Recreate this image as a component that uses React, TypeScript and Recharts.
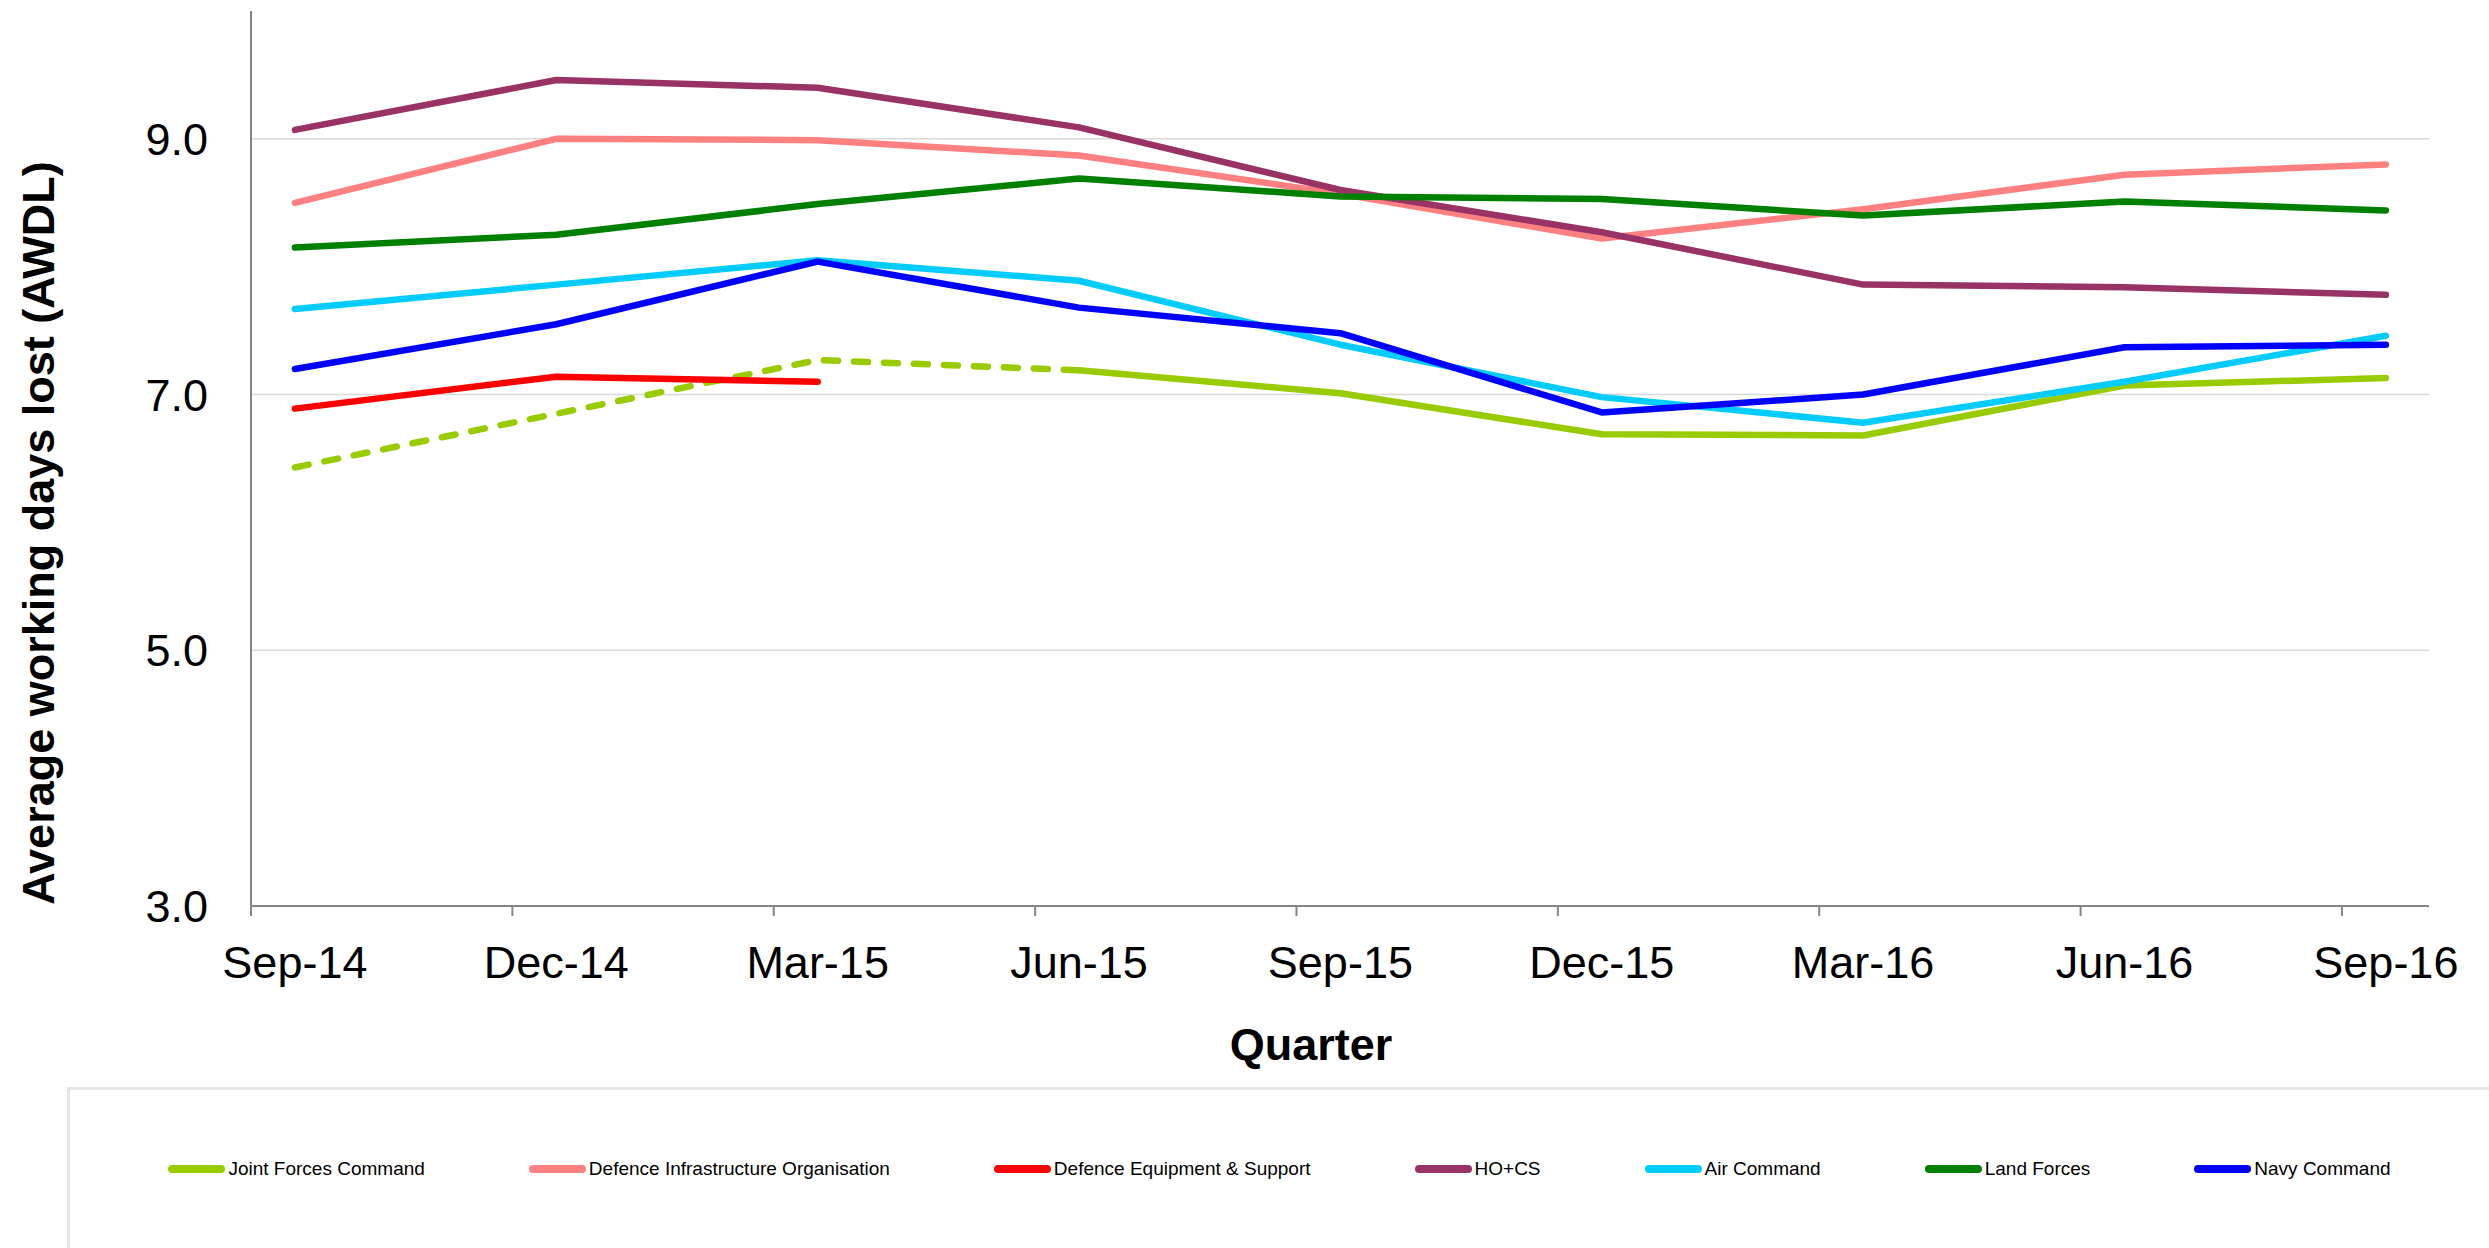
import { CartesianGrid, Legend, Line, LineChart, XAxis, YAxis } from "recharts"

const quarters = ["Sep-14", "Dec-14", "Mar-15", "Jun-15", "Sep-15", "Dec-15", "Mar-16", "Jun-16", "Sep-16"]

const jointForces = [null, null, null, 7.19, 7.01, 6.69, 6.68, 7.07, 7.13]
const jointForcesEarly = [6.43, 6.85, 7.27, 7.19, null, null, null, null, null]
const infrastructure = [8.5, 9.0, 8.99, 8.87, 8.57, 8.22, 8.45, 8.72, 8.8]
const equipment = [6.89, 7.14, 7.1, null, null, null, null, null, null]
const hoCs = [9.07, 9.46, 9.4, 9.09, 8.6, 8.27, 7.86, 7.84, 7.78]
const airCommand = [7.67, 7.86, 8.05, 7.89, 7.39, 6.98, 6.78, 7.1, 7.46]
const landForces = [8.15, 8.25, 8.49, 8.69, 8.55, 8.53, 8.4, 8.51, 8.44]
const navyCommand = [7.2, 7.55, 8.04, 7.68, 7.48, 6.86, 7.0, 7.37, 7.39]

const yTicks = [3, 5, 7, 9]
const gridValues = [5, 7, 9]

const legendOrder = [
  "Joint Forces Command",
  "Defence Infrastructure Organisation",
  "Defence Equipment & Support",
  "HO+CS",
  "Air Command",
  "Land Forces",
  "Navy Command",
]

const data = quarters.map((q, i) => ({
  idx: i,
  quarter: q,
  jfc: jointForces[i],
  jfcEarly: jointForcesEarly[i],
  dio: infrastructure[i],
  des: equipment[i],
  hocs: hoCs[i],
  air: airCommand[i],
  land: landForces[i],
  navy: navyCommand[i],
}))

const W = 2489
const H = 1248
const LEFT = 251
const RIGHT_MARGIN = 60
const X_MIN = -0.168
const X_MAX = 8.165
const PLOT_W = W - LEFT - RIGHT_MARGIN
const FONT = "'Liberation Sans', Arial, sans-serif"
const AXIS = "#858585"

// excel puts the tick marks between the date points, not under them
const SHIFT = (-X_MIN * PLOT_W) / (X_MAX - X_MIN)

const XTick = (props: any) => {
  const { x, y, payload } = props
  const axisY = y - 40
  return (
    <g>
      <line x1={x - SHIFT} x2={x - SHIFT} y1={axisY} y2={axisY + 10} stroke={AXIS} strokeWidth={2} />
      <text x={x} y={y} dy="0.71em" textAnchor="middle" fontFamily={FONT} fontSize={45} fill="#000">
        {quarters[payload.value]}
      </text>
    </g>
  )
}

const renderLegend = (props: any) => {
  const items = (props.payload || [])
    .filter((e: any) => e.type !== "none")
    .sort((a: any, b: any) => legendOrder.indexOf(a.value) - legendOrder.indexOf(b.value))
  return (
    <div
      style={{
        width: 2422,
        height: 161,
        boxSizing: "border-box",
        borderTop: "3px solid #e6e6e6",
        borderLeft: "3px solid #e6e6e6",
        display: "flex",
        alignItems: "center",
        justifyContent: "center",
        gap: 104,
        fontFamily: FONT,
        fontSize: 19,
        color: "#000",
      }}
    >
      {items.map((e: any) => (
        <div key={e.value} style={{ display: "flex", alignItems: "center", whiteSpace: "nowrap" }}>
          <span style={{ width: 57, height: 8, borderRadius: 4, background: e.color, marginRight: 3 }} />
          <span>{e.value}</span>
        </div>
      ))}
    </div>
  )
}

const lineProps = {
  type: "linear" as const,
  dot: false,
  activeDot: false,
  strokeWidth: 6.5,
  strokeLinecap: "round" as const,
  strokeLinejoin: "round" as const,
  isAnimationActive: false,
}

export default function App() {
  return (
    <div style={{ position: "absolute", left: 0, top: 0, background: "#fff" }}>
      <LineChart width={W} height={H} data={data} margin={{ top: 11, right: RIGHT_MARGIN, left: 0, bottom: 0 }}>
        <CartesianGrid vertical={false} horizontalValues={gridValues} stroke="#d9d9d9" strokeWidth={1.5} />
        <XAxis
          type="number"
          dataKey="idx"
          domain={[X_MIN, X_MAX]}
          ticks={[0, 1, 2, 3, 4, 5, 6, 7, 8]}
          interval={0}
          height={181}
          tickLine={false}
          tickSize={10}
          tickMargin={30}
          axisLine={{ stroke: AXIS, strokeWidth: 2 }}
          tick={<XTick />}
          label={{
            content: (p: any) => {
              const vb = p.viewBox
              return (
                <text
                  x={vb.x + vb.width / 2 - 29}
                  y={1060}
                  textAnchor="middle"
                  fontFamily={FONT}
                  fontSize={45}
                  fontWeight="bold"
                  fill="#000"
                >
                  Quarter
                </text>
              )
            },
          }}
        />
        <YAxis
          domain={[3, 10]}
          ticks={yTicks}
          width={LEFT}
          tickLine={false}
          tickSize={6}
          tickMargin={37}
          axisLine={{ stroke: AXIS, strokeWidth: 2 }}
          tick={{ fontFamily: FONT, fontSize: 45, fill: "#000" }}
          tickFormatter={(v: number) => v.toFixed(1)}
          label={{
            content: () => (
              <text
                x={54}
                y={533}
                transform="rotate(-90, 54, 533)"
                textAnchor="middle"
                fontFamily={FONT}
                fontSize={45}
                fontWeight="bold"
                fill="#000"
              >
                Average working days lost (AWDL)
              </text>
            ),
          }}
        />
        <Legend
          verticalAlign="bottom"
          width={2422}
          height={161}
          wrapperStyle={{ left: 67, top: 1087, bottom: "auto" }}
          content={renderLegend}
        />
        <Line {...lineProps} dataKey="jfcEarly" stroke="#99cc00" strokeDasharray="14 16" legendType="none" />
        <Line {...lineProps} dataKey="jfc" name="Joint Forces Command" stroke="#99cc00" />
        <Line {...lineProps} dataKey="dio" name="Defence Infrastructure Organisation" stroke="#ff8080" />
        <Line {...lineProps} dataKey="des" name="Defence Equipment & Support" stroke="#ff0000" />
        <Line {...lineProps} dataKey="hocs" name="HO+CS" stroke="#993366" />
        <Line {...lineProps} dataKey="air" name="Air Command" stroke="#00ccff" />
        <Line {...lineProps} dataKey="land" name="Land Forces" stroke="#008000" />
        <Line {...lineProps} dataKey="navy" name="Navy Command" stroke="#0000ff" />
      </LineChart>
    </div>
  )
}
